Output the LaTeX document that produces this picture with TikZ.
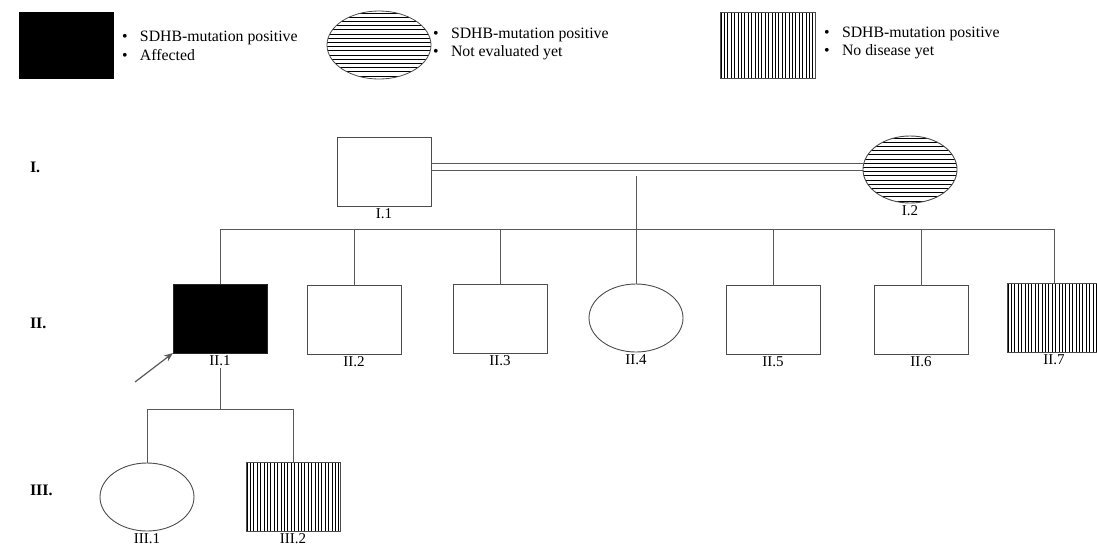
\documentclass[tikz,border=0pt]{standalone}
\usepackage{fontspec}
\setmainfont{Liberation Serif}
\newfontfamily\idfont{Liberation Serif}
\usetikzlibrary{shapes.geometric,arrows.meta,calc}

\begin{document}
\begin{tikzpicture}[x=1pt,y=-1pt,
  every node/.style={inner sep=0pt, outer sep=0pt},
  edge/.style={draw=black!65, line width=0.9pt},
  person/.style={draw=black!70, line width=0.9pt, minimum width=94pt, minimum height=69pt,
    label={[idlbl, label distance=2.5pt]below:#1}},
  male/.style={person=#1, rectangle},
  female/.style={person=#1, ellipse, minimum height=68pt},
  affected/.style={fill=black, draw=black!85},
  hstripes/.style={path picture={
    \foreach \k in {0,...,20}{
      \draw[black, line width=0.8pt]
        ([yshift={-\k*4.2pt-2pt}]path picture bounding box.north west) --
        ([yshift={-\k*4.2pt-2pt}]path picture bounding box.north east);}}},
  vstripes/.style={path picture={
    \foreach \k in {0,...,35}{
      \draw[black, line width=0.8pt]
        ([xshift={\k*3.4pt+1pt}]path picture bounding box.south west) --
        ([xshift={\k*3.4pt+1pt}]path picture bounding box.north west);}}},
  idlbl/.style={font=\idfont\fontsize{15}{15}\selectfont},
  gen/.style={font=\bfseries\fontsize{16}{16}\selectfont, anchor=west},
  legtext/.style={font=\fontsize{15.8}{18.5}\selectfont, anchor=west, align=left}
]
\useasboundingbox (0,0) rectangle (1097,544);

% ---- legend ----
\node[draw=black, fill=black, minimum width=94pt, minimum height=66pt] (keyA) at (66,45) {};
\node[legtext] (keyAt) at (122,46) {\makebox[18pt][l]{•}SDHB-mutation positive\\ \makebox[18pt][l]{•}Affected};

\node[draw=black!70, line width=0.8pt, ellipse, minimum width=104pt, minimum height=68pt, hstripes] (keyB) at (379,45) {};
\node[legtext] (keyBt) at (433,44) {\makebox[18pt][l]{•}SDHB-mutation positive\\ \makebox[18pt][l]{•}Not evaluated yet};

\node[draw=black!70, line width=0.8pt, minimum width=95pt, minimum height=66pt, vstripes] (keyC) at (767.5,45) {};
\node[legtext] (keyCt) at (824,43) {\makebox[18pt][l]{•}SDHB-mutation positive\\ \makebox[18pt][l]{•}No disease yet};

% ---- generation markers ----
\node[gen] (g1) at (30,167) {I.};
\node[gen] (g2) at (30,323) {II.};
\node[gen] (g3) at (30,490) {III.};

% ---- generation I ----
\node[male=I.1] (i1) at (384,171.5) {};
\node[female=I.2, minimum height=67pt, hstripes] (i2) at (910,169.5) {};
\coordinate (mc) at (636,167);
\coordinate (d1) at (636,176);
\coordinate (s1) at (636,229);
\draw[edge] ($(i1.east |- mc)+(0,-3.5)$) -- ($(i2.west |- mc)+(0,-3.5)$);
\draw[edge] ($(i1.east |- mc)+(0,3.5)$) -- ($(i2.west |- mc)+(0,3.5)$);

% ---- generation II ----
\node[male=II.1, affected] (ii1) at (220,318.5) {};
\node[male=II.2] (ii2) at (354,319.5) {};
\node[male=II.3] (ii3) at (500,319) {};
\node[female=II.4] (ii4) at (636,318) {};
\node[male=II.5] (ii5) at (773,320) {};
\node[male=II.6] (ii6) at (921,320) {};
\node[male=II.7, vstripes] (ii7) at (1054,317.5) {};

\draw[edge] (d1) -- (s1);
\draw[edge] (ii1 |- s1) -- (ii7 |- s1);
\foreach \n in {ii1,ii2,ii3,ii4,ii5,ii6,ii7}
  \draw[edge] (\n |- s1) -- (\n.north);

% proband arrow
\coordinate (pa) at (135,382);
\draw[draw=black!65, line width=1.2pt, -{Stealth[length=9pt,width=7pt]}] (pa) -- (ii1.south west);

% ---- generation III ----
\node[female=III.1] (iii1) at (147,497) {};
\node[male=III.2, vstripes] (iii2) at (293,496.5) {};
\coordinate (d2) at (220,368);
\coordinate (s2) at (220,409);
\draw[edge] (d2) -- (s2);
\draw[edge] (iii1 |- s2) -- (iii2 |- s2);
\draw[edge] (iii1 |- s2) -- (iii1.north);
\draw[edge] (iii2 |- s2) -- (iii2.north);
\end{tikzpicture}
\end{document}
